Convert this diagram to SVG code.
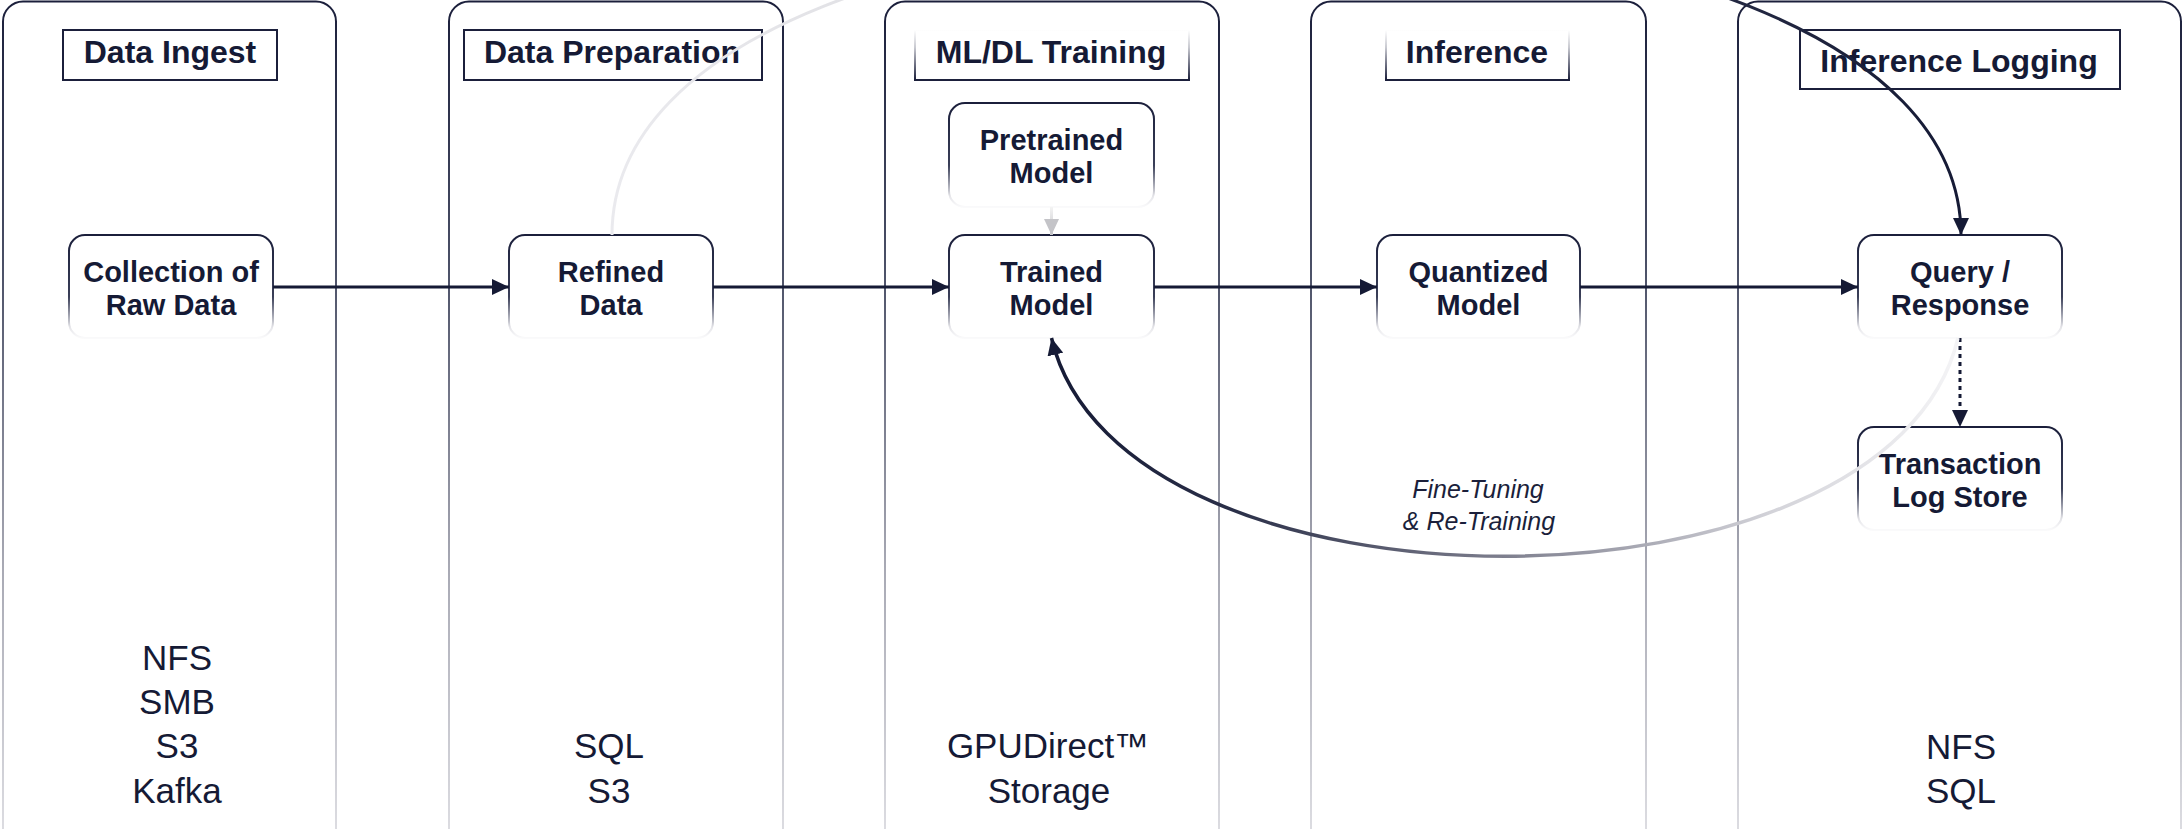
<svg xmlns="http://www.w3.org/2000/svg" width="2183" height="829" viewBox="0 0 2183 829">
<defs>
<style>
.lane{fill:#ffffff;stroke:url(#laneGrad);stroke-width:2}
.title{fill:#ffffff;stroke:#1b1f3b;stroke-width:2}
.titleFade{fill:#ffffff;stroke:url(#titleFadeGrad);stroke-width:2}
.ttext{font-family:"Liberation Sans",Arial,sans-serif;font-weight:bold;font-size:32px;fill:#151a35;text-anchor:middle}
.node{fill:#ffffff;stroke:url(#nodeGrad);stroke-width:2}
.ntext{font-family:"Liberation Sans",Arial,sans-serif;font-weight:bold;font-size:29px;fill:#151a35;text-anchor:middle}
.btext{font-family:"Liberation Sans",Arial,sans-serif;font-size:35px;fill:#151a35;text-anchor:middle}
.itext{font-family:"Liberation Sans",Arial,sans-serif;font-style:italic;font-size:25px;fill:#1b1f3b;text-anchor:middle}
.edge{fill:none;stroke:#151a35;stroke-width:3}
</style>
<linearGradient id="laneGrad" x1="0" y1="0" x2="0" y2="1">
<stop offset="0" stop-color="#1b1f3b"/>
<stop offset="0.3" stop-color="#4a4f66"/>
<stop offset="0.65" stop-color="#a8a9b4"/>
<stop offset="1" stop-color="#e4e4e8"/>
</linearGradient>
<linearGradient id="titleFadeGrad" x1="0" y1="0" x2="0" y2="1">
<stop offset="0" stop-color="#ffffff"/>
<stop offset="0.35" stop-color="#c8c9d0"/>
<stop offset="1" stop-color="#1b1f3b"/>
</linearGradient>
<linearGradient id="nodeGrad" x1="0" y1="0" x2="0" y2="1">
<stop offset="0" stop-color="#1b1f3b"/>
<stop offset="0.6" stop-color="#3a3f58"/>
<stop offset="0.9" stop-color="#e6e6ea"/>
<stop offset="1" stop-color="#fafafb"/>
</linearGradient>
<linearGradient id="topCurveGrad" gradientUnits="userSpaceOnUse" x1="612" y1="0" x2="1961" y2="0">
<stop offset="0" stop-color="#eaeaee"/>
<stop offset="0.3" stop-color="#dcdce0"/>
<stop offset="0.75" stop-color="#2a2f48"/>
<stop offset="1" stop-color="#151a35"/>
</linearGradient>
<linearGradient id="botCurveGrad" gradientUnits="userSpaceOnUse" x1="1958" y1="0" x2="1051" y2="0">
<stop offset="0" stop-color="#f4f4f6"/>
<stop offset="0.2" stop-color="#d4d4da"/>
<stop offset="0.5" stop-color="#7e7f8e"/>
<stop offset="0.8" stop-color="#2a2f48"/>
<stop offset="1" stop-color="#151a35"/>
</linearGradient>
<linearGradient id="preGrad" gradientUnits="userSpaceOnUse" x1="0" y1="207" x2="0" y2="235">
<stop offset="0" stop-color="#f4f4f4"/>
<stop offset="1" stop-color="#c4c4c8"/>
</linearGradient>
<marker id="arrow" markerUnits="userSpaceOnUse" markerWidth="17" markerHeight="16" viewBox="0 0 17 16" refX="17" refY="8" orient="auto">
<path d="M0,0 L17,8 L0,16 z" fill="#151a35"/>
</marker>
<marker id="arrowGray" markerUnits="userSpaceOnUse" markerWidth="16" markerHeight="15" viewBox="0 0 16 15" refX="16" refY="7.5" orient="auto">
<path d="M0,0 L16,7.5 L0,15 z" fill="#c4c4c8"/>
</marker>
</defs>
<rect width="2183" height="829" fill="#ffffff"/>

<g id="lane-data-ingest">
<rect class="lane" x="3" y="1.5" width="333" height="870" rx="20"/>
<rect class="title" x="63" y="30" width="214" height="50"/>
<text class="ttext" x="170" y="63">Data Ingest</text>
<text class="btext" x="177" y="670">NFS</text>
<text class="btext" x="177" y="714">SMB</text>
<text class="btext" x="177" y="758">S3</text>
<text class="btext" x="177" y="803">Kafka</text>
</g>
<g id="lane-data-preparation">
<rect class="lane" x="449" y="1.5" width="334" height="870" rx="20"/>
<rect class="title" x="464" y="30" width="298" height="50"/>
<text class="ttext" x="612" y="63">Data Preparation</text>
<text class="btext" x="609" y="758">SQL</text>
<text class="btext" x="609" y="803">S3</text>
</g>
<g id="lane-ml-dl-training">
<rect class="lane" x="885" y="1.5" width="334" height="870" rx="20"/>
<rect class="titleFade" x="915" y="30" width="274" height="50"/>
<text class="ttext" x="1051" y="63">ML/DL Training</text>
<text class="btext" x="1048" y="758">GPUDirect™</text>
<text class="btext" x="1049" y="803">Storage</text>
</g>
<g id="lane-inference">
<rect class="lane" x="1311" y="1.5" width="335" height="870" rx="20"/>
<rect class="titleFade" x="1386" y="30" width="183" height="50"/>
<text class="ttext" x="1477" y="63">Inference</text>
</g>
<g id="lane-inference-logging">
<rect class="lane" x="1738" y="1.5" width="443" height="870" rx="20"/>
<rect class="title" x="1800" y="30" width="320" height="59"/>
<text class="ttext" x="1959" y="72">Inference Logging</text>
<text class="btext" x="1961" y="759">NFS</text>
<text class="btext" x="1961" y="803">SQL</text>
</g>

<g id="node-collection">
<rect class="node" x="69" y="235" width="204" height="103" rx="16"/>
<text class="ntext" x="171" y="282">Collection of</text>
<text class="ntext" x="171" y="315">Raw Data</text>
</g>
<g id="node-refined">
<rect class="node" x="509" y="235" width="204" height="103" rx="16"/>
<text class="ntext" x="611" y="282">Refined</text>
<text class="ntext" x="611" y="315">Data</text>
</g>
<g id="node-pretrained">
<rect class="node" x="949" y="103" width="205" height="104" rx="16"/>
<text class="ntext" x="1051.5" y="150">Pretrained</text>
<text class="ntext" x="1051.5" y="183">Model</text>
</g>
<g id="node-trained">
<rect class="node" x="949" y="235" width="205" height="103" rx="16"/>
<text class="ntext" x="1051.5" y="282">Trained</text>
<text class="ntext" x="1051.5" y="315">Model</text>
</g>
<g id="node-quantized">
<rect class="node" x="1377" y="235" width="203" height="103" rx="16"/>
<text class="ntext" x="1478.5" y="282">Quantized</text>
<text class="ntext" x="1478.5" y="315">Model</text>
</g>
<g id="node-query">
<rect class="node" x="1858" y="235" width="204" height="103" rx="16"/>
<text class="ntext" x="1960" y="282">Query /</text>
<text class="ntext" x="1960" y="315">Response</text>
</g>
<g id="node-transaction">
<rect class="node" x="1858" y="427" width="204" height="103" rx="16"/>
<text class="ntext" x="1960" y="474">Transaction</text>
<text class="ntext" x="1960" y="507">Log Store</text>
</g>

<g id="connectors">
<line class="edge" x1="273" y1="287" x2="509" y2="287" marker-end="url(#arrow)"/>
<line class="edge" x1="713" y1="287" x2="949" y2="287" marker-end="url(#arrow)"/>
<line class="edge" x1="1154" y1="287" x2="1377" y2="287" marker-end="url(#arrow)"/>
<line class="edge" x1="1580" y1="287" x2="1858" y2="287" marker-end="url(#arrow)"/>
<line x1="1051.5" y1="207" x2="1051.5" y2="235" stroke="url(#preGrad)" stroke-width="3" marker-end="url(#arrowGray)"/>
<line class="edge" x1="1960" y1="338" x2="1960" y2="427" stroke-dasharray="4 4" marker-end="url(#arrow)"/>
<path d="M612,235 C612,-171 1961,-171 1961,235" fill="none" stroke="url(#topCurveGrad)" stroke-width="3" marker-end="url(#arrow)"/>
<path d="M1958,338 C1889,629 1120,629 1051.5,338" fill="none" stroke="url(#botCurveGrad)" stroke-width="3.5" marker-end="url(#arrow)"/>
<text class="itext" x="1478" y="498">Fine-Tuning</text>
<text class="itext" x="1479" y="530">&amp; Re-Training</text>
</g>
</svg>
